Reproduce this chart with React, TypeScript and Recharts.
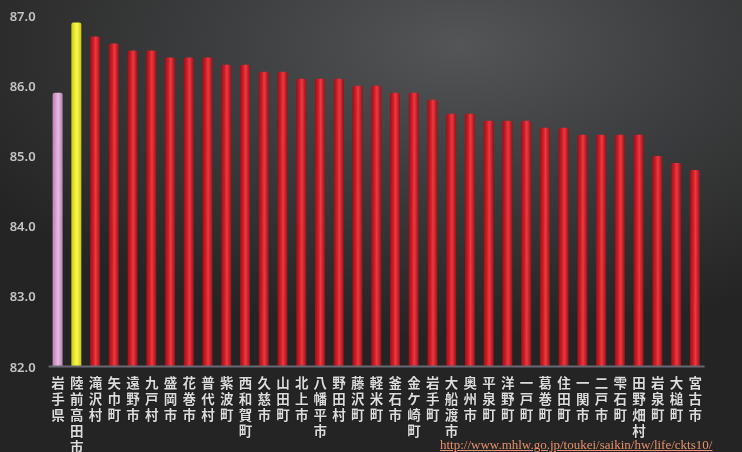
import React from 'react';
import { BarChart, Bar, XAxis, YAxis, Cell } from 'recharts';

// Average life expectancy (female) by municipality in Iwate
const areas = [
  '岩手県', '陸前高田市', '滝沢村', '矢巾町', '遠野市', '九戸村', '盛岡市', '花巻市', '普代村',
  '紫波町', '西和賀町', '久慈市', '山田町', '北上市', '八幡平市', '野田村', '藤沢町', '軽米町',
  '釜石市', '金ケ崎町', '岩手町', '大船渡市', '奥州市', '平泉町', '洋野町', '一戸町', '葛巻町',
  '住田町', '一関市', '二戸市', '雫石町', '田野畑村', '岩泉町', '大槌町', '宮古市',
];

const lifeExpectancy = [
  85.9, 86.9, 86.7, 86.6, 86.5, 86.5, 86.4, 86.4, 86.4,
  86.3, 86.3, 86.2, 86.2, 86.1, 86.1, 86.1, 86.0, 86.0,
  85.9, 85.9, 85.8, 85.6, 85.6, 85.5, 85.5, 85.5, 85.4,
  85.4, 85.3, 85.3, 85.3, 85.3, 85.0, 84.9, 84.8,
];

const yTicks = [82, 83, 84, 85, 86, 87];

const data = areas.map((name, i) => ({ name, value: lifeExpectancy[i] }));

const barFill = (i: number) => {
  if (i === 0) return 'url(#barPink)';
  if (i === 1) return 'url(#barYellow)';
  return 'url(#barRed)';
};

// place names are stacked one character per line under each bar
const VerticalTick = ({ x, y, payload }: any) => (
  <text
    textAnchor="middle"
    fill="#dcdcdc"
    fontSize={13.5}
    fontWeight={600}
    fontFamily="'Noto Sans CJK JP', sans-serif"
    style={{ textShadow: '0 0 1px #000' }}
  >
    {Array.from(String(payload.value)).map((ch, i) => (
      <tspan key={i} x={x} y={y + 13.5 + i * 16}>
        {ch}
      </tspan>
    ))}
  </text>
);

const ValueTick = ({ x, y, payload }: any) => (
  <text
    x={x - 5}
    y={y}
    dy={5}
    textAnchor="end"
    fill="#c4c4c4"
    fontSize={13}
    fontWeight={600}
    fontFamily="'Noto Sans', sans-serif"
  >
    {Number(payload.value).toFixed(1)}
  </text>
);

const gradientStops = (edge: string, mid: string, hi: string) => (
  <>
    <stop offset="0%" stopColor={edge} />
    <stop offset="35%" stopColor={mid} />
    <stop offset="55%" stopColor={hi} />
    <stop offset="100%" stopColor={edge} />
  </>
);

export default function App() {
  return (
    <div
      style={{
        position: 'fixed',
        left: 0,
        top: 0,
        width: 742,
        height: 452,
        overflow: 'hidden',
        background:
          'radial-gradient(ellipse 75% 65% at 62% 10%, #535557 0%, #3c3d3e 45%, #242424 100%)',
      }}
    >
      <BarChart
        width={742}
        height={452}
        data={data}
        margin={{ top: 15.5, right: 37.4, bottom: 0, left: 0 }}
        barCategoryGap={0}
      >
        <defs>
          <linearGradient id="barRed" x1="0" y1="0" x2="1" y2="0">
            {gradientStops('#9c1018', '#d41e28', '#ec3a40')}
          </linearGradient>
          <linearGradient id="barYellow" x1="0" y1="0" x2="1" y2="0">
            {gradientStops('#c8c418', '#eeec2c', '#fbf850')}
          </linearGradient>
          <linearGradient id="barPink" x1="0" y1="0" x2="1" y2="0">
            {gradientStops('#b884b0', '#d8a2d2', '#e8bce4')}
          </linearGradient>
        </defs>
        <XAxis
          dataKey="name"
          interval={0}
          tickLine={false}
          axisLine={{ stroke: '#686874', strokeWidth: 2 }}
          tick={<VerticalTick />}
          height={85.5}
        />
        <YAxis
          width={48.6}
          domain={[82, 87]}
          ticks={yTicks}
          axisLine={false}
          tickLine={false}
          allowDataOverflow
          tick={<ValueTick />}
        />
        <Bar dataKey="value" barSize={10} radius={[2, 2, 0, 0]} isAnimationActive={false}>
          {data.map((d, i) => (
            <Cell key={d.name} fill={barFill(i)} />
          ))}
        </Bar>
      </BarChart>
      <a
        href="http://www.mhlw.go.jp/toukei/saikin/hw/life/ckts10/"
        style={{
          position: 'absolute',
          left: 440,
          top: 437,
          fontFamily: "'Liberation Serif', serif",
          fontSize: 13,
          color: '#e8906c',
          textDecoration: 'underline',
          whiteSpace: 'nowrap',
        }}
      >
        http://www.mhlw.go.jp/toukei/saikin/hw/life/ckts10/
      </a>
    </div>
  );
}
